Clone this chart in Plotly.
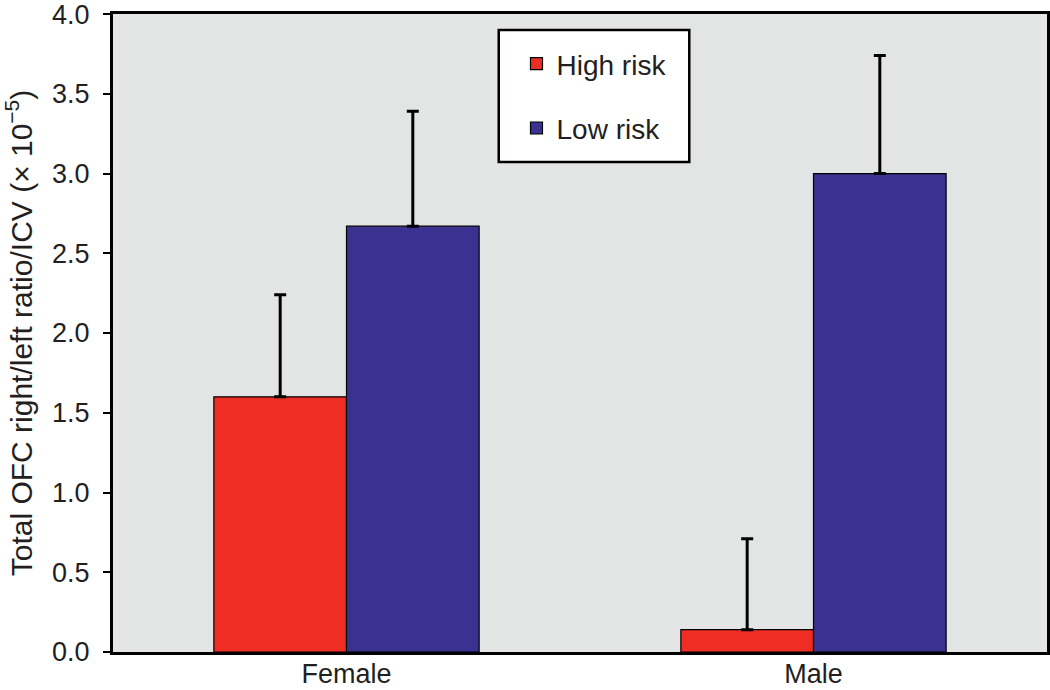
import plotly.graph_objects as go

# Data
groups = ['Female', 'Male']
high_risk = [1.60, 0.14]
high_risk_err = [0.64, 0.57]
low_risk = [2.67, 3.00]
low_risk_err = [0.72, 0.74]

RED = '#EE2D24'
BLUE = '#3B3190'
FONT = 'Liberation Sans, Arial, sans-serif'

fig = go.Figure()

fig.add_trace(go.Bar(
    x=groups, y=high_risk, name='High risk',
    marker=dict(color=RED, line=dict(color='black', width=1.2)),
    error_y=dict(type='data', symmetric=False, array=high_risk_err,
                 arrayminus=[0, 0], color='black', thickness=3, width=6),
    legendgroup='a',
))
fig.add_trace(go.Bar(
    x=groups, y=low_risk, name='Low risk',
    marker=dict(color=BLUE, line=dict(color='black', width=1.2)),
    error_y=dict(type='data', symmetric=False, array=low_risk_err,
                 arrayminus=[0, 0], color='black', thickness=3, width=6),
    legendgroup='b',
))

# legend frame
fig.add_shape(type='rect', xref='paper', yref='paper',
              x0=0.413, x1=0.617, y0=0.768, y1=0.975,
              line=dict(color='black', width=2.5), fillcolor='white', layer='above')

fig.update_layout(
    width=1050, height=690,
    margin=dict(l=113, r=3, t=14, b=38),
    paper_bgcolor='white',
    plot_bgcolor='#E3E4E4',
    barmode='group',
    bargap=0.432,
    bargroupgap=0,
    font=dict(family=FONT, size=28, color='#231F20'),
    showlegend=True,
    legend=dict(
        x=0.432, y=0.961, xanchor='left', yanchor='top',
        bgcolor='rgba(0,0,0,0)', borderwidth=0,
        traceorder='grouped', tracegroupgap=25,
        font=dict(size=28),
    ),
    xaxis=dict(
        showline=True, linecolor='black', linewidth=3, mirror=True,
        ticks='', showgrid=False, tickfont=dict(size=27), automargin=False,
        ticklabelstandoff=-4,
    ),
    yaxis=dict(
        range=[0, 4.0005], tickvals=[0, 0.5, 1, 1.5, 2, 2.5, 3, 3.5, 4],
        tickformat='.1f', ticklabeloverflow='allow',
        showline=True, linecolor='black', linewidth=3, mirror=True,
        ticks='outside', ticklen=7, tickwidth=2, tickcolor='black',
        ticklabelstandoff=8, automargin=False,
        showgrid=False, zeroline=False, tickfont=dict(size=27),
        title=dict(text='Total OFC right/left ratio/ICV (× 10<sup>−5</sup>)',
                   font=dict(size=30)),
    ),
)

fig.write_html('out.html', config={'displayModeBar': False},
               post_script="document.body.style.margin='0';")
